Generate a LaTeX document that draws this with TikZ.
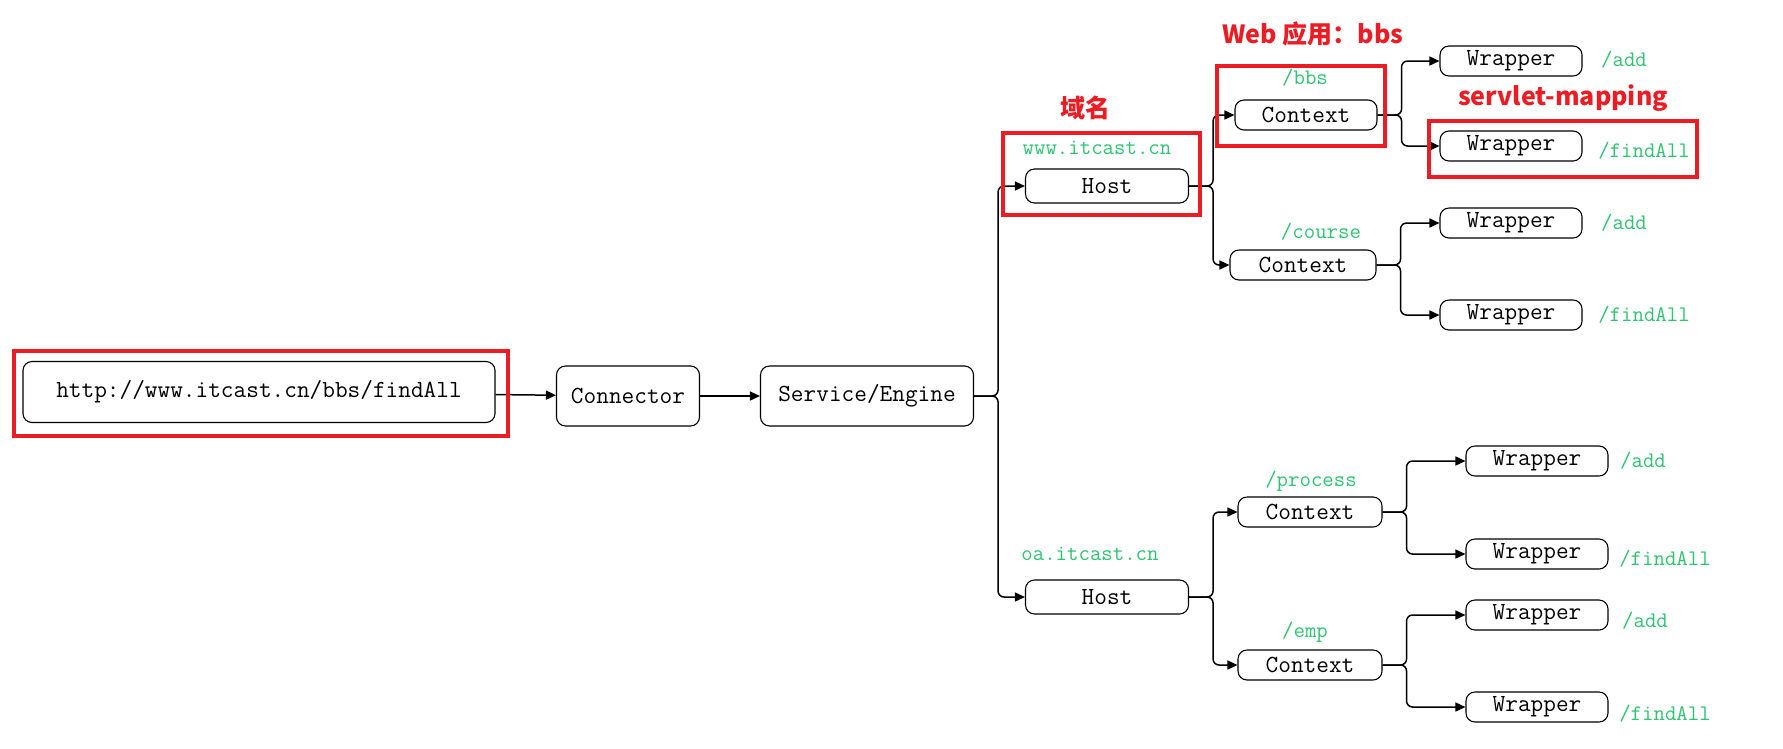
\documentclass[tikz,border=0pt]{standalone}
\usepackage{fontspec}
\newfontfamily\cjkbold{Noto Sans CJK SC}
\usetikzlibrary{arrows.meta}
\definecolor{pathgreen}{RGB}{46,196,113}
\definecolor{markred}{RGB}{236,28,36}
\tikzstyle{chain}=[x=1pt, y=-1pt, line width=1.5pt, font=\ttfamily\fontsize{24.6}{27}\selectfont]
\tikzstyle{comp}=[rectangle, rounded corners=9pt, draw, line width=1.1pt, fill=white, inner sep=0pt, minimum width=142pt, minimum height=30pt]
\tikzstyle{link}=[-{Triangle[length=10pt,width=9pt]}, rounded corners=6pt]
\tikzstyle{addr}=[pathgreen, inner sep=0pt, font=\ttfamily\fontsize{22.2}{24}\selectfont]
\tikzstyle{hilite}=[draw=markred, line width=3.4pt]
\tikzstyle{note}=[markred, inner sep=0pt, font=\cjkbold\bfseries\fontsize{25}{28}\selectfont]
\newcommand{\forkX}{24}

\begin{document}
\begin{tikzpicture}[chain]
\useasboundingbox (0,0) rectangle (1783,748);
		%The request chain
		\draw (259,392) node[comp, minimum width=472pt, minimum height=61pt] (url) {http://www.itcast.cn/bbs/findAll};
		\draw (628,396) node[comp, minimum width=143pt, minimum height=60pt] (conn) {Connector};
		\draw (867,396) node[comp, minimum width=213pt, minimum height=60pt] (serv) {Service/Engine};
		\draw[link] (url) -- (conn);
		\draw[link] (conn) -- (serv);

		%The hosts
		\draw (1107,186) node[comp, minimum width=163pt, minimum height=34pt] (host1) {Host};
		\draw (1107,597) node[comp, minimum width=163pt, minimum height=34pt] (host2) {Host};
		\draw[link] (serv.east) -- ++(\forkX,0) |- (host1.west);
		\draw[link] (serv.east) -- ++(\forkX,0) |- (host2.west);
		\node[addr] (h1name) at (1097,148) {www.itcast.cn};
		\node[addr] (h2name) at (1090,554) {oa.itcast.cn};

		%The contexts
		\draw (1306,115) node[comp] (ctx1) {Context};
		\draw (1303,265) node[comp, minimum width=146pt] (ctx2) {Context};
		\draw (1310,512) node[comp, minimum width=144pt] (ctx3) {Context};
		\draw (1310,665) node[comp, minimum width=144pt] (ctx4) {Context};
		\draw[link] (host1.east) -- ++(\forkX,0) |- (ctx1.west);
		\draw[link] (host1.east) -- ++(\forkX,0) |- (ctx2.west);
		\draw[link] (host2.east) -- ++(\forkX,0) |- (ctx3.west);
		\draw[link] (host2.east) -- ++(\forkX,0) |- (ctx4.west);
		\node[addr] (c1name) at (1305,78) {/bbs};
		\node[addr] (c2name) at (1321,232) {/course};
		\node[addr] (c3name) at (1311,481) {/process};
		\node[addr] (c4name) at (1305,632) {/emp};

		%The wrappers
		\draw (1511,61) node[comp] (wr1) {Wrapper};
		\draw (1511,146) node[comp] (wr2) {Wrapper};
		\draw (1511,223) node[comp] (wr3) {Wrapper};
		\draw (1511,315) node[comp] (wr4) {Wrapper};
		\draw (1537,461) node[comp] (wr5) {Wrapper};
		\draw (1537,554) node[comp] (wr6) {Wrapper};
		\draw (1537,615) node[comp] (wr7) {Wrapper};
		\draw (1537,707) node[comp] (wr8) {Wrapper};
		\draw[link] (ctx1.east) -- ++(\forkX,0) |- (wr1.west);
		\draw[link] (ctx1.east) -- ++(\forkX,0) |- (wr2.west);
		\draw[link] (ctx2.east) -- ++(\forkX,0) |- (wr3.west);
		\draw[link] (ctx2.east) -- ++(\forkX,0) |- (wr4.west);
		\draw[link] (ctx3.east) -- ++(\forkX,0) |- (wr5.west);
		\draw[link] (ctx3.east) -- ++(\forkX,0) |- (wr6.west);
		\draw[link] (ctx4.east) -- ++(\forkX,0) |- (wr7.west);
		\draw[link] (ctx4.east) -- ++(\forkX,0) |- (wr8.west);
		\node[addr] (w1name) at (1624,60) {/add};
		\node[addr] (w2name) at (1644,151) {/findAll};
		\node[addr] (w3name) at (1624,223) {/add};
		\node[addr] (w4name) at (1644,315) {/findAll};
		\node[addr] (w5name) at (1643,461) {/add};
		\node[addr] (w6name) at (1665,559) {/findAll};
		\node[addr] (w7name) at (1645,621) {/add};
		\node[addr] (w8name) at (1665,714) {/findAll};

		%The marked parts
		\draw[hilite] (14,351) rectangle (508,436);
		\draw[hilite] (1003,133) rectangle (1200,215);
		\draw[hilite] (1217,66) rectangle (1385,146);
		\draw[hilite] (1429,121) rectangle (1697,177);
		\node[note] (domain) at (1085,108) {域名};
		\node[note] (webapp) at (1313,34) {Web 应用：bbs};
		\node[note] (mapping) at (1563,98) {servlet-mapping};
\end{tikzpicture}
\end{document}
